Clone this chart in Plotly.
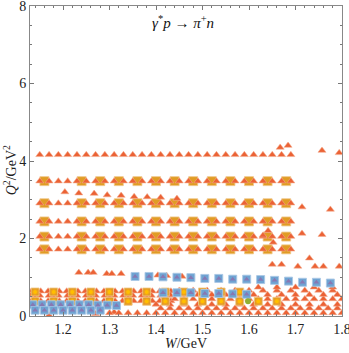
import plotly.graph_objects as go

# CLAS-type grid: triangles at fixed Q2 rows, W every 0.02 GeV
grid_w = [1.15, 1.17, 1.19, 1.21, 1.23, 1.25, 1.27, 1.29, 1.31, 1.33, 1.35, 1.37, 1.39, 1.41,
          1.43, 1.45, 1.47, 1.49, 1.51, 1.53, 1.55, 1.57, 1.59, 1.61, 1.63, 1.65, 1.67, 1.69]
grid_q2 = [1.72, 2.05, 2.44, 2.91, 3.48, 4.16]

# gold squares sitting on the lower five grid rows
gold_w = [1.16, 1.24, 1.28, 1.32, 1.36, 1.40, 1.44, 1.48, 1.52, 1.56, 1.60, 1.64, 1.68]
gold_q2 = [1.72, 2.05, 2.44, 2.91, 3.48]

# scattered triangles (other data sets)
tri_w = [1.204, 1.234, 1.267, 1.295, 1.325, 1.353, 1.381, 1.41, 1.445, 1.714, 1.775,
         1.667, 1.684, 1.757, 1.794,
         1.234, 1.254, 1.265, 1.294, 1.305, 1.325, 1.404, 1.423, 1.456,
         1.641, 1.652, 1.63, 1.714, 1.757, 1.73, 1.65, 1.67, 1.705, 1.742, 1.76, 1.794]
tri_q2 = [3.2, 3.17, 3.16, 3.12, 3.11, 3.08, 3.07, 3.06, 3.03, 2.81, 2.75,
          4.35, 4.4, 4.27, 4.21,
          1.12, 1.12, 1.12, 1.09, 1.09, 1.09, 1.05, 1.04, 1.02,
          2.2, 1.9, 2.08, 2.13, 2.1, 1.49, 1.33, 1.33, 1.28, 1.28, 1.28, 1.28]

# low-Q2 triangles, columns around the gold/amber markers (W < 1.44)
col_w = [1.128, 1.152, 1.13, 1.15, 1.14, 1.128, 1.152, 1.14,
         1.168, 1.192, 1.17, 1.19, 1.18, 1.168, 1.192, 1.18,
         1.208, 1.232, 1.21, 1.23, 1.22, 1.208, 1.232, 1.22,
         1.248, 1.272, 1.25, 1.27, 1.26, 1.248, 1.272, 1.26,
         1.288, 1.312, 1.29, 1.31, 1.30, 1.288, 1.312, 1.30,
         1.328, 1.352, 1.33, 1.35, 1.34, 1.328, 1.352, 1.34,
         1.368, 1.392, 1.37, 1.39, 1.38, 1.368, 1.392, 1.38,
         1.408, 1.432, 1.41, 1.43, 1.42, 1.408, 1.432, 1.42,
         1.17, 1.27, 1.31]
col_q2 = [0.64, 0.64, 0.53, 0.53, 0.47, 0.39, 0.39, 0.33,
          0.64, 0.64, 0.53, 0.53, 0.47, 0.39, 0.39, 0.33,
          0.64, 0.64, 0.53, 0.53, 0.47, 0.39, 0.39, 0.33,
          0.64, 0.64, 0.53, 0.53, 0.47, 0.39, 0.39, 0.33,
          0.64, 0.64, 0.53, 0.53, 0.47, 0.39, 0.39, 0.33,
          0.64, 0.64, 0.53, 0.53, 0.47, 0.39, 0.39, 0.33,
          0.64, 0.64, 0.53, 0.53, 0.47, 0.39, 0.39, 0.33,
          0.64, 0.64, 0.53, 0.53, 0.47, 0.39, 0.39, 0.33,
          0.02, 0.06, 0.1]

# dense low-Q2 triangles at higher W, listed row by row
dense_w_008 = [1.30, 1.32, 1.34, 1.36, 1.38, 1.40, 1.42, 1.44, 1.46, 1.48, 1.50, 1.52, 1.54, 1.56,
               1.58, 1.60, 1.62, 1.64, 1.66, 1.68, 1.70, 1.72, 1.74, 1.76, 1.78, 1.80]
dense_w_020 = [1.41, 1.43, 1.45, 1.47, 1.49, 1.51, 1.53, 1.55, 1.57, 1.59, 1.61, 1.63, 1.65,
               1.67, 1.69, 1.71, 1.73, 1.75, 1.77, 1.79]
dense_w_030 = [1.40, 1.43, 1.46, 1.49, 1.52, 1.55, 1.58, 1.61, 1.64, 1.67, 1.70, 1.73, 1.76, 1.79]
dense_w_044 = [1.44, 1.46, 1.48, 1.50, 1.52, 1.54, 1.56, 1.58, 1.60, 1.62, 1.64, 1.66, 1.68,
               1.70, 1.72, 1.74, 1.76, 1.78, 1.80]
dense_w_055 = [1.43, 1.46, 1.49, 1.52, 1.55, 1.58, 1.61, 1.64, 1.67, 1.70, 1.73, 1.76, 1.79]
dense_w_066 = [1.45, 1.48, 1.51, 1.54, 1.57, 1.60, 1.63, 1.66, 1.69, 1.72, 1.75, 1.78]
dense_w_074 = [1.62, 1.66, 1.70, 1.74, 1.78]
dense_rows = [(0.08, dense_w_008), (0.2, dense_w_020), (0.3, dense_w_030), (0.44, dense_w_044),
              (0.55, dense_w_055), (0.66, dense_w_066), (0.74, dense_w_074)]

# blue squares with purple triangles
blue_w = [1.355, 1.385, 1.415, 1.445, 1.475, 1.505, 1.535, 1.565, 1.595, 1.625, 1.655, 1.685, 1.715, 1.745, 1.775,
          1.415, 1.445, 1.475, 1.505, 1.535, 1.565, 1.595,
          1.135, 1.155, 1.175, 1.195, 1.215, 1.235, 1.255, 1.275, 1.295, 1.315,
          1.14, 1.16, 1.18, 1.20, 1.22, 1.24, 1.26, 1.28]
blue_q2 = [1.02, 1.02, 1.01, 1.0, 0.99, 0.97, 0.97, 0.95, 0.95, 0.94, 0.92, 0.9, 0.87, 0.87, 0.85,
           0.6, 0.6, 0.6, 0.58, 0.58, 0.57, 0.56,
           0.29, 0.29, 0.29, 0.29, 0.29, 0.29, 0.29, 0.28, 0.28, 0.27,
           0.15, 0.15, 0.15, 0.15, 0.15, 0.15, 0.15, 0.15]

# gold squares with amber circles
circ_w = [1.14, 1.18, 1.22, 1.26, 1.30, 1.34, 1.38, 1.42, 1.46, 1.50, 1.54, 1.58,
          1.14, 1.18, 1.22, 1.26, 1.30, 1.34, 1.38, 1.42, 1.46, 1.50, 1.54, 1.58, 1.62, 1.66]
circ_q2 = [0.62, 0.62, 0.62, 0.62, 0.62, 0.62, 0.62, 0.62, 0.62, 0.62, 0.62, 0.62,
           0.38, 0.38, 0.38, 0.38, 0.38, 0.38, 0.38, 0.38, 0.38, 0.38, 0.38, 0.38, 0.38, 0.38]

green_w = [1.598]
green_q2 = [0.38]

RED = "#EB6235"
GOLD = "#E19C24"
BLUE = "#6EA3D2"
PURPLE = "#8778B3"
AMBER = "#FFBF00"
GREEN = "#8FB032"

fig = go.Figure()

gx = [w for q in gold_q2 for w in gold_w]
gy = [q for q in gold_q2 for w in gold_w]
fig.add_trace(go.Scatter(x=gx, y=gy, mode="markers",
                         marker=dict(symbol="square", size=9, color=GOLD,
                                     line=dict(color="rgba(240,200,140,0.8)", width=1))))

tx = [w for q in grid_q2 for w in grid_w] + tri_w + col_w
ty = [q for q in grid_q2 for w in grid_w] + tri_q2 + col_q2
for q, ws in dense_rows:
    tx += ws
    ty += [q] * len(ws)
fig.add_trace(go.Scatter(x=tx, y=ty, mode="markers",
                         marker=dict(symbol="triangle-up", size=7, color=RED,
                                     line=dict(color="rgba(245,170,140,0.7)", width=0.8))))

fig.add_trace(go.Scatter(x=circ_w, y=circ_q2, mode="markers",
                         marker=dict(symbol="square", size=8, color=GOLD,
                                     line=dict(color="rgba(240,200,140,0.8)", width=1))))
fig.add_trace(go.Scatter(x=circ_w, y=circ_q2, mode="markers",
                         marker=dict(symbol="circle", size=5, color=AMBER,
                                     line=dict(color="#F0A020", width=1))))

fig.add_trace(go.Scatter(x=blue_w, y=blue_q2, mode="markers",
                         marker=dict(symbol="square", size=8, color=BLUE,
                                     line=dict(color="rgba(170,200,230,0.9)", width=1))))
fig.add_trace(go.Scatter(x=blue_w, y=blue_q2, mode="markers",
                         marker=dict(symbol="triangle-up", size=5, color=PURPLE,
                                     line=dict(width=0))))

fig.add_trace(go.Scatter(x=green_w, y=green_q2, mode="markers",
                         marker=dict(symbol="circle", size=6, color=GREEN, line=dict(width=0))))

font = dict(family="Liberation Serif, Times New Roman, serif", size=14, color="#222")
axis_common = dict(showgrid=False, zeroline=False, showline=True, linecolor="#888",
                   linewidth=1, mirror="ticks", ticks="inside", tickcolor="#777",
                   ticklen=4, tickfont=font, automargin=False,
                   ticklabeloverflow="allow")

fig.update_layout(
    width=349, height=353,
    margin=dict(l=30, r=7, t=6, b=37),
    paper_bgcolor="white", plot_bgcolor="white",
    showlegend=False,
    font=font,
    xaxis=dict(range=[1.129, 1.8], dtick=0.1, tick0=1.2,
               minor=dict(dtick=0.02, ticks="inside", ticklen=2, tickcolor="#777"),
               **axis_common),
    yaxis=dict(range=[0, 8], dtick=2, tick0=0,
               minor=dict(dtick=0.5, ticks="inside", ticklen=2, tickcolor="#777"),
               **axis_common),
    annotations=[
        dict(x=0.49, y=0.947, xref="paper", yref="paper", showarrow=False,
             xanchor="center", yanchor="middle",
             text="<i>γ</i><sup>*</sup><i>p</i> → <i>π</i><sup>+</sup><i>n</i>",
             font=dict(family="Liberation Serif, serif", size=15, color="#111")),
        dict(x=0.5, y=-0.088, xref="paper", yref="paper", showarrow=False,
             yanchor="middle", text="<i>W</i>/GeV", font=font),
        dict(x=-0.064, y=0.47, xref="paper", yref="paper", showarrow=False,
             xanchor="center", yanchor="middle", textangle=-90,
             text="<i>Q</i><sup>2</sup>/GeV<sup>2</sup>", font=font),
    ],
)

fig.write_html("out.html", config={"displayModeBar": False},
               post_script="document.body.style.margin='0';")
